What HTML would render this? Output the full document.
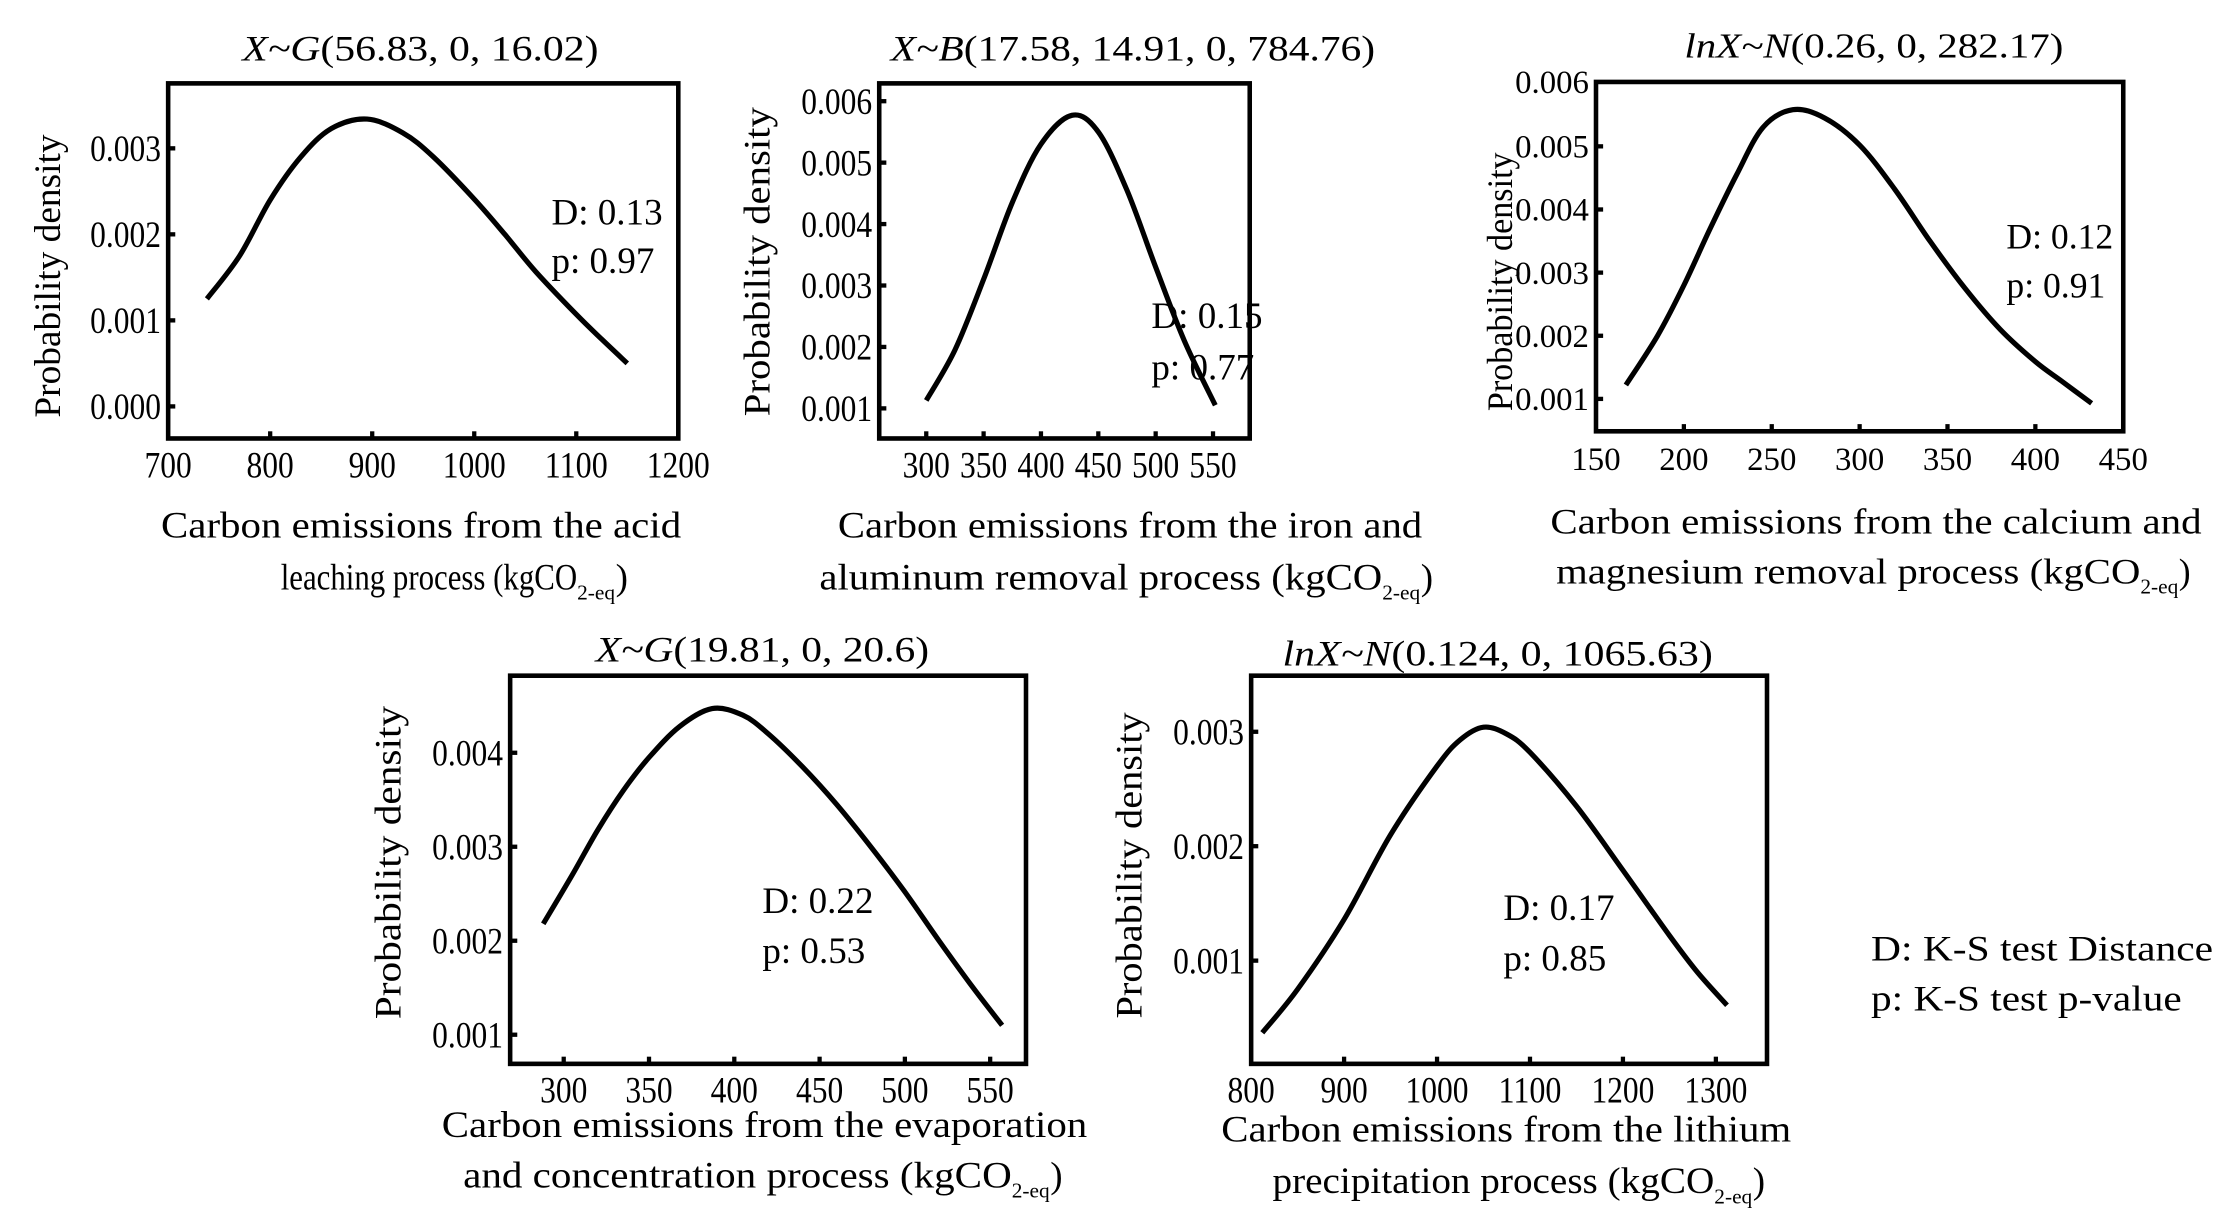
<!DOCTYPE html>
<html><head><meta charset="utf-8">
<style>
html,body{margin:0;padding:0;background:#fff;}
svg{display:block;}
text{font-family:"Liberation Serif","DejaVu Serif",serif;fill:#000;}
</style></head>
<body>
<svg id="fig" width="2223" height="1222" viewBox="0 0 1560 850" preserveAspectRatio="none" xmlns="http://www.w3.org/2000/svg">
<text x="1313" y="668" font-size="25" textLength="240" lengthAdjust="spacingAndGlyphs">D: K-S test Distance</text>
<text x="1313" y="703" font-size="25" textLength="218" lengthAdjust="spacingAndGlyphs">p: K-S test p-value</text>
</svg>
<script>
// Panel 1: acid leaching
const p1X = [738, 770, 800, 830, 860, 895, 930, 960, 1000, 1030, 1060, 1100, 1125, 1150];
const p1Y = [0.00125, 0.00175, 0.0024, 0.0029, 0.00323, 0.00334, 0.00318, 0.0029, 0.00241, 0.002, 0.00157, 0.00107, 0.00078, 0.0005];
const p1XTicks = [700, 800, 900, 1000, 1100, 1200];
const p1YTicks = [0.000, 0.001, 0.002, 0.003];
// Panel 2: iron and aluminum removal
const p2X = [300, 325, 350, 375, 400, 427, 450, 475, 500, 525, 552];
const p2Y = [0.00113, 0.00195, 0.0031, 0.00435, 0.0053, 0.00577, 0.0055, 0.00455, 0.0033, 0.0021, 0.00105];
const p2XTicks = [300, 350, 400, 450, 500, 550];
const p2YTicks = [0.001, 0.002, 0.003, 0.004, 0.005, 0.006];
// Panel 3: calcium and magnesium removal
const p3X = [167, 185, 200, 215, 230, 245, 262, 280, 300, 320, 340, 360, 380, 400, 415, 432];
const p3Y = [0.00122, 0.002, 0.0028, 0.0037, 0.00455, 0.0053, 0.00558, 0.00545, 0.00502, 0.00432, 0.0035, 0.00275, 0.0021, 0.00159, 0.00128, 0.00093];
const p3XTicks = [150, 200, 250, 300, 350, 400, 450];
const p3YTicks = [0.001, 0.002, 0.003, 0.004, 0.005];
// Panel 4: evaporation and concentration
const p4X = [288, 305, 320, 335, 350, 368, 387, 405, 420, 440, 460, 480, 500, 520, 540, 557];
const p4Y = [0.00218, 0.0027, 0.00318, 0.0036, 0.00395, 0.00428, 0.00447, 0.0044, 0.0042, 0.00385, 0.00345, 0.003, 0.00252, 0.002, 0.0015, 0.0011];
const p4XTicks = [300, 350, 400, 450, 500, 550];
const p4YTicks = [0.001, 0.002, 0.003, 0.004];
// Panel 5: lithium precipitation
const p5X = [812, 850, 900, 950, 1000, 1025, 1050, 1075, 1100, 1150, 1200, 1250, 1280, 1312];
const p5Y = [0.00037, 0.00075, 0.00136, 0.0021, 0.0027, 0.00293, 0.00304, 0.00298, 0.00282, 0.00235, 0.00179, 0.00122, 0.0009, 0.00061];
const p5XTicks = [800, 900, 1000, 1100, 1200, 1300];
const p5YTicks = [0.001, 0.002, 0.003];

const NS = "http://www.w3.org/2000/svg";
const svg = document.getElementById('fig');
function mk(tag, attrs, parent, txt){
  const e = document.createElementNS(NS, tag);
  for (const k in attrs) e.setAttribute(k, attrs[k]);
  if (txt !== undefined) e.textContent = txt;
  (parent || svg).appendChild(e);
  return e;
}
function smooth(pts){
  let d = 'M' + pts[0][0].toFixed(2) + ',' + pts[0][1].toFixed(2);
  for (let i = 0; i < pts.length - 1; i++){
    const p0 = pts[Math.max(0,i-1)], p1 = pts[i], p2 = pts[i+1], p3 = pts[Math.min(pts.length-1,i+2)];
    const c1 = [p1[0] + (p2[0]-p0[0])/6, p1[1] + (p2[1]-p0[1])/6];
    const c2 = [p2[0] - (p3[0]-p1[0])/6, p2[1] - (p3[1]-p1[1])/6];
    d += ' C' + c1[0].toFixed(2)+','+c1[1].toFixed(2)+' '+c2[0].toFixed(2)+','+c2[1].toFixed(2)+' '+p2[0].toFixed(2)+','+p2[1].toFixed(2);
  }
  return d;
}
function tlen(s, fs, cond){
  let w = 0;
  for (const ch of s) w += (ch === '.' ? 0.25 : 0.5) * fs;
  return w * cond;
}

const panels = [
  {id:'acid', L:118,T:58,R:476,B:305, xmin:700,xmax:1200, ymin:-0.000373,ymax:0.003755,
   xs:p1X, ys:p1Y, xt:p1XTicks, yt:p1YTicks, cond:0.85,
   title:['X~G','(56.83, 0, 16.02)'], tx:170, tw:250, ty:42,
   xl:['Carbon emissions from the acid','leaching process (kgCO'], xlx:[113,197], xlw:[365,208], xly:[374,410],
   yl:{x:42, c:192, w:197}, D:['D: 0.13','p: 0.97'], dx:387, dy:[156,190], fs:25, tfs:26},
  {id:'iron', L:617,T:58,R:877,B:305, xmin:259,xmax:582, ymin:0.00051,ymax:0.00629,
   xs:p2X, ys:p2Y, xt:p2XTicks, yt:p2YTicks, cond:0.85,
   title:['X~B','(17.58, 14.91, 0, 784.76)'], tx:625, tw:340, ty:42,
   xl:['Carbon emissions from the iron and','aluminum removal process (kgCO'], xlx:[588,575], xlw:[410,395], xly:[374,410],
   yl:{x:540, c:182, w:215}, D:['D: 0.15','p: 0.77'], dx:808, dy:[228,264], fs:25, tfs:26},
  {id:'calcium', L:1120,T:57,R:1490,B:300, xmin:150,xmax:450, ymin:0.000487,ymax:0.00602,
   xs:p3X, ys:p3Y, xt:p3XTicks, yt:p3YTicks, ytopLabel:'0.006', cond:1.0,
   title:['lnX~N','(0.26, 0, 282.17)'], tx:1182, tw:266, ty:40,
   xl:['Carbon emissions from the calcium and','magnesium removal process (kgCO'], xlx:[1088,1092], xlw:[457,410], xly:[371,406],
   yl:{x:1061, c:196, w:180}, D:['D: 0.12','p: 0.91'], dx:1408, dy:[173,207], fs:24, tfs:23},
  {id:'evaporation', L:358,T:470,R:720,B:740, xmin:268.6,xmax:571, ymin:0.00069,ymax:0.00482,
   xs:p4X, ys:p4Y, xt:p4XTicks, yt:p4YTicks, cond:0.85,
   title:['X~G','(19.81, 0, 20.6)'], tx:418, tw:234, ty:460,
   xl:['Carbon emissions from the evaporation','and concentration process (kgCO'], xlx:[310,325], xlw:[453,385], xly:[791,826],
   yl:{x:281, c:600, w:218}, D:['D: 0.22','p: 0.53'], dx:535, dy:[635,670], fs:25, tfs:26},
  {id:'lithium', L:878,T:470,R:1240,B:740, xmin:800,xmax:1355, ymin:0.000098,ymax:0.00349,
   xs:p5X, ys:p5Y, xt:p5XTicks, yt:p5YTicks, cond:0.85,
   title:['lnX~N','(0.124, 0, 1065.63)'], tx:900, tw:302, ty:463,
   xl:['Carbon emissions from the lithium','precipitation process (kgCO'], xlx:[857,893], xlw:[400,310], xly:[794,830],
   yl:{x:801, c:602, w:213}, D:['D: 0.17','p: 0.85'], dx:1055, dy:[640,675], fs:25, tfs:26}
];

panels.forEach(p => {
  const g = mk('g', {});
  
  
  const sx = v => p.L + (v - p.xmin) / (p.xmax - p.xmin) * (p.R - p.L);
  const sy = v => p.B - (v - p.ymin) / (p.ymax - p.ymin) * (p.B - p.T);
  p.xt.forEach(t => {
    const x = sx(t);
    if (x > p.L + 2 && x < p.R - 2){
      const tk = mk('line', {x1:x, x2:x, y1:p.B, y2:p.B-5, stroke:'#000', 'stroke-width':3}, g);
      
      
    }
    const s = String(t);
    const lb = mk('text', {x:x, y:p.B+27, 'font-size':p.tfs, 'text-anchor':'middle', textLength:tlen(s,p.tfs,p.cond), lengthAdjust:'spacingAndGlyphs'}, g, s);
    
    
  });
  const ylabs = p.yt.map(t => [t, t.toFixed(3)]);
  if (p.ytopLabel) ylabs.push([null, p.ytopLabel]);
  ylabs.forEach(([t, s]) => {
    const y = t === null ? p.T : sy(t);
    if (t !== null && y > p.T + 2){
      const tk = mk('line', {x1:p.L, x2:p.L+5, y1:y, y2:y, stroke:'#000', 'stroke-width':3}, g);
      
      
    }
    const lb = mk('text', {x:p.L-5, y:y+p.tfs*0.34, 'font-size':p.tfs, 'text-anchor':'end', textLength:tlen(s,p.tfs,p.cond), lengthAdjust:'spacingAndGlyphs'}, g, s);
    
    
  });
  const pts = p.xs.map((v, i) => [sx(v), sy(p.ys[i])]);
  const c = mk('path', {d:smooth(pts), fill:'none', stroke:'#000', 'stroke-width':3.6, 'stroke-linejoin':'round'}, g);
  
  
  const fr = mk('rect', {x:p.L, y:p.T, width:p.R-p.L, height:p.B-p.T, fill:'none', stroke:'#000', 'stroke-width':3.2}, g);
  
  
  const tt = mk('text', {x:p.tx, y:p.ty, 'font-size':p.fs, textLength:p.tw, lengthAdjust:'spacingAndGlyphs'}, g);
  
  
  mk('tspan', {'font-style':'italic'}, tt, p.title[0]);
  mk('tspan', {}, tt, p.title[1]);
  const xl1 = mk('text', {x:p.xlx[0], y:p.xly[0], 'font-size':p.fs+1, textLength:p.xlw[0], lengthAdjust:'spacingAndGlyphs'}, g, p.xl[0]);
  
  
  const xl2 = mk('text', {x:p.xlx[1], y:p.xly[1], 'font-size':p.fs+1, textLength:p.xlw[1], lengthAdjust:'spacingAndGlyphs'}, g, p.xl[1]);
  
  
  const sub = mk('text', {x:p.xlx[1]+p.xlw[1], y:p.xly[1]+7, 'font-size':15}, g, '2-eq');
  
  
  const cp = mk('text', {x:p.xlx[1]+p.xlw[1]+27, y:p.xly[1], 'font-size':p.fs+1}, g, ')');
  
  
  const yl = mk('text', {x:0, y:0, 'font-size':p.fs+1, 'text-anchor':'middle', textLength:p.yl.w, lengthAdjust:'spacingAndGlyphs', transform:'translate('+p.yl.x+','+p.yl.c+') rotate(-90)'}, g, 'Probability density');
  
  
  const d1 = mk('text', {x:p.dx, y:p.dy[0], 'font-size':p.fs+1}, g, p.D[0]);
  
  
  const d2 = mk('text', {x:p.dx, y:p.dy[1], 'font-size':p.fs+1}, g, p.D[1]);
  
  
});
</script>
</body></html>
